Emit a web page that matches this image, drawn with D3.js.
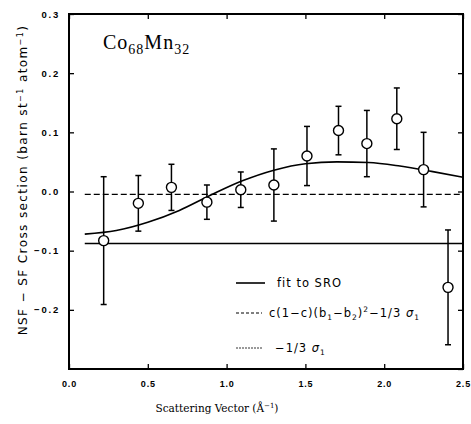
<!DOCTYPE html>
<html>
<head>
<meta charset="utf-8">
<script src="https://cdn.jsdelivr.net/npm/d3@7"></script>
<style>
body { margin: 0; background: #fff; }
</style>
</head>
<body>
<script>
var width = 471,
    height = 424,
    margin = {left: 69, right: 8, top: 14, bottom: 55}

// Measured points: Q, cross section, error
var qData = [0.22, 0.44, 0.65, 0.875, 1.09, 1.30, 1.51, 1.71, 1.89, 2.08, 2.25, 2.405]
var sData = [-0.083, -0.020, 0.007, -0.018, 0.003, 0.011, 0.060, 0.103, 0.081, 0.123, 0.037, -0.162]
var errData = [0.108, 0.047, 0.039, 0.029, 0.030, 0.061, 0.050, 0.041, 0.056, 0.052, 0.063, 0.097]

// Fit to SRO
var fitQ = [0.1, 0.3, 0.5, 0.7, 0.9, 1.1, 1.3, 1.5, 1.7, 1.9, 2.1, 2.3, 2.5]
var fitS = [-0.072, -0.066, -0.052, -0.032, -0.006, 0.018, 0.036, 0.047, 0.050, 0.049, 0.043, 0.034, 0.024]

// Horizontal reference levels
var lauePlusSigma = -0.005   // c(1-c)(b1-b2)^2 - 1/3 sigma
var sigmaLevel = -0.088      // -1/3 sigma
var levelStart = 0.1

var xTicks = [0, 0.5, 1.0, 1.5, 2.0, 2.5]
var yTicks = [-0.3, -0.2, -0.1, 0.0, 0.1, 0.2, 0.3]

var x = d3.scaleLinear()
    .domain([0, 2.5])
    .range([margin.left, width - margin.right])

var y = d3.scaleLinear()
    .domain([-0.3, 0.3])
    .range([height - margin.bottom, margin.top])

var svg = d3.select('body').append('svg')
    .attr('width', width)
    .attr('height', height)

var tickFont = '"Liberation Sans", Arial, sans-serif'

// Axes: ticks point inward on all four sides
var axBottom = svg.append('g')
    .attr('transform', 'translate(0,' + y(-0.3) + ')')
    .call(d3.axisBottom(x).tickValues(xTicks).tickSize(-5).tickPadding(10).tickFormat(d3.format('.1f')))
var axTop = svg.append('g')
    .attr('transform', 'translate(0,' + y(0.3) + ')')
    .call(d3.axisTop(x).tickValues(xTicks).tickSize(-5).tickFormat(''))
var axLeft = svg.append('g')
    .attr('transform', 'translate(' + x(0) + ',0)')
    .call(d3.axisLeft(y).tickValues(yTicks.slice(1)).tickSize(-5).tickPadding(9).tickFormat(d3.format('.1f')))
var axRight = svg.append('g')
    .attr('transform', 'translate(' + x(2.5) + ',0)')
    .call(d3.axisRight(y).tickValues(yTicks).tickSize(-5).tickFormat(''))

;[axBottom, axTop, axLeft, axRight].forEach(function(g) {
    g.select('.domain').remove()
    g.selectAll('line').attr('stroke', '#000').attr('stroke-width', 1.3)
    g.selectAll('text')
        .style('font-family', tickFont)
        .style('font-weight', 'bold')
        .style('font-size', '9.5px')
        .style('letter-spacing', '1.8px')
        .attr('fill', '#000')
})
axBottom.selectAll('text')
    .attr('dy', '0.9em')
    .style('font-size', '9px')
    .style('letter-spacing', '0.8px')

// Frame
svg.append('rect')
    .attr('x', x(0))
    .attr('y', y(0.3))
    .attr('width', x(2.5) - x(0))
    .attr('height', y(-0.3) - y(0.3))
    .attr('fill', 'none')
    .attr('stroke', '#000')
    .attr('stroke-width', 2)

// Reference levels
svg.append('line')
    .attr('x1', x(levelStart)).attr('x2', x(2.5))
    .attr('y1', y(lauePlusSigma)).attr('y2', y(lauePlusSigma))
    .attr('stroke', '#000').attr('stroke-width', 1.2)
    .attr('stroke-dasharray', '6,3')

svg.append('line')
    .attr('x1', x(levelStart)).attr('x2', x(2.5))
    .attr('y1', y(sigmaLevel)).attr('y2', y(sigmaLevel))
    .attr('stroke', '#000').attr('stroke-width', 1.4)

// Fit curve
var fitLine = d3.line()
    .x(function(d, i) { return x(fitQ[i]) })
    .y(function(d) { return y(d) })
    .curve(d3.curveMonotoneX)

svg.append('path')
    .attr('d', fitLine(fitS))
    .attr('fill', 'none')
    .attr('stroke', '#000')
    .attr('stroke-width', 1.6)

// Error bars and points
var pts = svg.selectAll('g.pt')
    .data(qData)
    .enter()
    .append('g')
    .attr('class', 'pt')

pts.append('line')
    .attr('x1', function(d) { return x(d) })
    .attr('x2', function(d) { return x(d) })
    .attr('y1', function(d, i) { return y(sData[i] + errData[i]) })
    .attr('y2', function(d, i) { return y(sData[i] - errData[i]) })
    .attr('stroke', '#000').attr('stroke-width', 1.5)

;[1, -1].forEach(function(sign) {
    pts.append('line')
        .attr('x1', function(d) { return x(d) - 3 })
        .attr('x2', function(d) { return x(d) + 3 })
        .attr('y1', function(d, i) { return y(sData[i] + sign * errData[i]) })
        .attr('y2', function(d, i) { return y(sData[i] + sign * errData[i]) })
        .attr('stroke', '#000').attr('stroke-width', 1.5)
})

pts.append('circle')
    .attr('cx', function(d) { return x(d) })
    .attr('cy', function(d, i) { return y(sData[i]) })
    .attr('r', 5)
    .attr('fill', '#fff')
    .attr('stroke', '#000')
    .attr('stroke-width', 1.4)

// Sample label
var title = svg.append('text')
    .attr('x', 103).attr('y', 49)
    .style('font-family', '"Liberation Serif", "DejaVu Serif", serif')
    .style('font-size', '20px')
    .style('letter-spacing', '1px')
title.append('tspan').text('Co')
title.append('tspan').attr('dy', 5).style('font-size', '14px').text('68')
title.append('tspan').attr('dy', -5).text('Mn')
title.append('tspan').attr('dy', 5).style('font-size', '14px').text('32')

// Legend
var legFont = '"DejaVu Sans", sans-serif'
var leg = svg.append('g')
    .style('font-family', legFont)
    .style('font-size', '11.5px')
    .style('letter-spacing', '1px')

leg.append('line').attr('x1', 236).attr('x2', 265).attr('y1', 283).attr('y2', 283)
    .attr('stroke', '#000').attr('stroke-width', 1.6)
leg.append('text').attr('x', 277).attr('y', 287).text('fit to SRO')

leg.append('line').attr('x1', 236).attr('x2', 262).attr('y1', 313).attr('y2', 313)
    .attr('stroke', '#000').attr('stroke-width', 1.1).attr('stroke-dasharray', '3,2')
var t2 = leg.append('text').attr('x', 269).attr('y', 317)
t2.append('tspan').text('c(1\u2212c)(b')
t2.append('tspan').attr('dy', 3).style('font-size', '7.5px').text('1')
t2.append('tspan').attr('dy', -3).text('\u2212b')
t2.append('tspan').attr('dy', 3).style('font-size', '7.5px').text('2')
t2.append('tspan').attr('dy', -3).text(')')
t2.append('tspan').attr('dy', -5).style('font-size', '7.5px').text('2')
t2.append('tspan').attr('dy', 5).text('\u22121/3 ')
t2.append('tspan').style('font-style', 'italic').text('\u03c3')
t2.append('tspan').attr('dy', 3).style('font-size', '7.5px').text('1')

leg.append('line').attr('x1', 236).attr('x2', 262).attr('y1', 348).attr('y2', 348)
    .attr('stroke', '#000').attr('stroke-width', 0.8).attr('stroke-dasharray', '2,1')
var t3 = leg.append('text').attr('x', 275).attr('y', 352)
t3.append('tspan').text('\u22121/3 ')
t3.append('tspan').style('font-style', 'italic').text('\u03c3')
t3.append('tspan').attr('dy', 3).style('font-size', '7.5px').text('1')

// Axis titles
var xt = svg.append('text')
    .attr('x', 217).attr('y', 412)
    .attr('text-anchor', 'middle')
    .style('font-family', '"DejaVu Serif", serif')
    .style('font-size', '10.5px')
xt.append('tspan').text('Scattering Vector (\u00c5')
xt.append('tspan').attr('dy', -4).style('font-size', '7px').text('\u22121')
xt.append('tspan').attr('dy', 4).text(')')

var yt = svg.append('text')
    .attr('transform', 'translate(27,' + 180 + ') rotate(-90)')
    .attr('text-anchor', 'middle')
    .style('font-family', legFont)
    .style('font-size', '12px')
    .style('letter-spacing', '1.4px')
yt.append('tspan').text('NSF \u2212 SF Cross section (barn st')
yt.append('tspan').attr('dy', -4).style('font-size', '8px').text('\u22121')
yt.append('tspan').attr('dy', 4).text(' atom')
yt.append('tspan').attr('dy', -4).style('font-size', '8px').text('\u22121')
yt.append('tspan').attr('dy', 4).text(')')
</script>
</body>
</html>
